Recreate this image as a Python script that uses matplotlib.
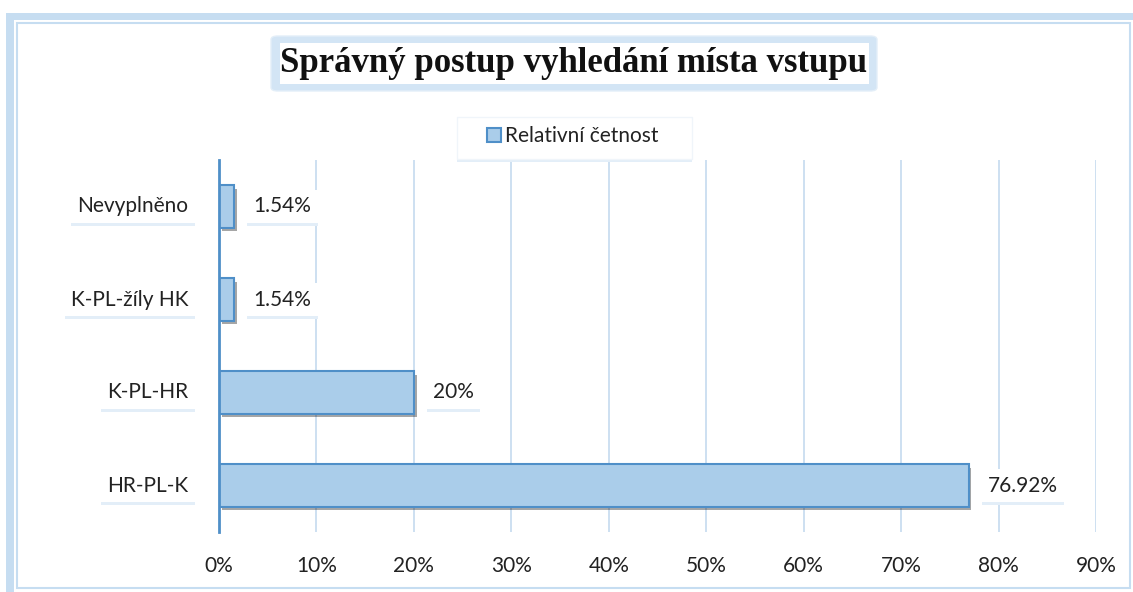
import matplotlib.pyplot as plt
import matplotlib.patheffects as pe
from matplotlib.patches import Rectangle, FancyBboxPatch
from matplotlib.ticker import MultipleLocator, FuncFormatter

categories = ['HR-PL-K', 'K-PL-HR', 'K-PL-žíly HK', 'Nevyplněno']
values = [76.92, 20, 1.54, 1.54]
value_labels = ['76.92%', '20%', '1.54%', '1.54%']
title = 'Správný postup vyhledání místa vstupu'
series_name = 'Relativní četnost'

bar_fill = '#AACDEA'
bar_edge = '#4F8FC8'
grid_col = '#C9DDF0'
frame_col = '#C6DDF1'
txt_col = '#222222'
fs = 15

plt.rcParams['font.family'] = ['Lato', 'DejaVu Sans']

fig = plt.figure(figsize=(11.33, 5.92), dpi=100)
W, H = 1133, 592

def fx(px):
    return px / W

def fy(py):
    return 1 - py / H

def box(x0, y0, x1, y1, **kw):
    # rectangle in pixel coords (y from top)
    return Rectangle((fx(x0), fy(y1)), fx(x1 - x0), (y1 - y0) / H,
                     transform=fig.transFigure, **kw)

# frame: thick band on left/top, thin inner line all round
fig.patches.append(box(6, 13, 14, 592, facecolor=frame_col, edgecolor='none', zorder=0))
fig.patches.append(box(6, 13, 1133, 20, facecolor=frame_col, edgecolor='none', zorder=0))
fig.patches.append(box(17, 23, 1130, 588, fill=False, edgecolor=frame_col,
                       linewidth=1.5, zorder=0))

ax = fig.add_axes([fx(219), fy(532), fx(1096) - fx(219), (532 - 160) / H])
ypos = list(range(len(categories)))
bars = ax.barh(ypos, values, height=0.46, color=bar_fill, edgecolor=bar_edge,
               linewidth=1.5, zorder=3)
for b in bars:
    b.set_path_effects([pe.SimplePatchShadow(offset=(2, -2.5), shadow_rgbFace='black', alpha=0.35),
                        pe.Normal()])

ax.set_xlim(0, 90)
ax.set_ylim(-0.5, len(categories) - 0.5)
ax.xaxis.set_major_locator(MultipleLocator(10))
ax.xaxis.set_major_formatter(FuncFormatter(lambda v, p: '%d%%' % round(v)))
ax.grid(axis='x', color=grid_col, linewidth=1.3, zorder=0)
ax.set_axisbelow(True)
for s in ['top', 'right', 'bottom']:
    ax.spines[s].set_visible(False)
ax.spines['left'].set_color(bar_edge)
ax.spines['left'].set_linewidth(2)
ax.spines['left'].set_zorder(4)
ax.tick_params(axis='x', length=0, pad=17, labelsize=fs, labelcolor=txt_col)
ax.set_yticks(ypos)
ax.set_yticklabels([])
ax.tick_params(axis='y', length=0)

box_shadow = [pe.SimplePatchShadow(offset=(0, -2.5), shadow_rgbFace='#E3EEF8', alpha=1),
              pe.Normal()]


def label(text, xy, dx, ha):
    a = ax.annotate(text, xy, xytext=(dx, 0), textcoords='offset points',
                    ha=ha, va='center', fontsize=fs, color=txt_col,
                    bbox=dict(boxstyle='square,pad=0.3', facecolor='white', edgecolor='none'),
                    zorder=5, annotation_clip=False)
    a.get_bbox_patch().set_path_effects(box_shadow)


for y, c in zip(ypos, categories):
    label(c, (0, y), -22, 'right')

for y, v, t in zip(ypos, values, value_labels):
    label(t, (v, y), 14, 'left')

# title box
fig.patches.append(FancyBboxPatch((fx(271), fy(91)), fx(606), (91 - 36) / H,
                                  boxstyle='round,pad=0,rounding_size=0.006',
                                  transform=fig.transFigure, facecolor='#D3E5F5',
                                  edgecolor='#E3EEF8', linewidth=1, zorder=1))
fig.patches.append(box(280, 43, 869, 84, facecolor='white', edgecolor='none', zorder=2))
fig.text(fx(574), fy(64), title, ha='center', va='center', fontsize=25,
         fontweight='bold', family='Liberation Serif', color='#111111', zorder=3)

# legend box
leg_box = box(457, 117, 692, 159, facecolor='white', edgecolor='#F0F5FA',
              linewidth=1, zorder=1)
leg_box.set_path_effects([pe.SimplePatchShadow(offset=(0, -2.5), shadow_rgbFace='#E3EEF8', alpha=1),
                          pe.Normal()])
fig.patches.append(leg_box)
fig.patches.append(box(487, 128, 501, 142, facecolor=bar_fill, edgecolor=bar_edge,
                       linewidth=1.5, zorder=2))
fig.text(fx(505), fy(136), series_name, ha='left', va='center', fontsize=fs,
         color=txt_col, zorder=3)

fig.savefig('out.png', dpi=100, facecolor='white')
